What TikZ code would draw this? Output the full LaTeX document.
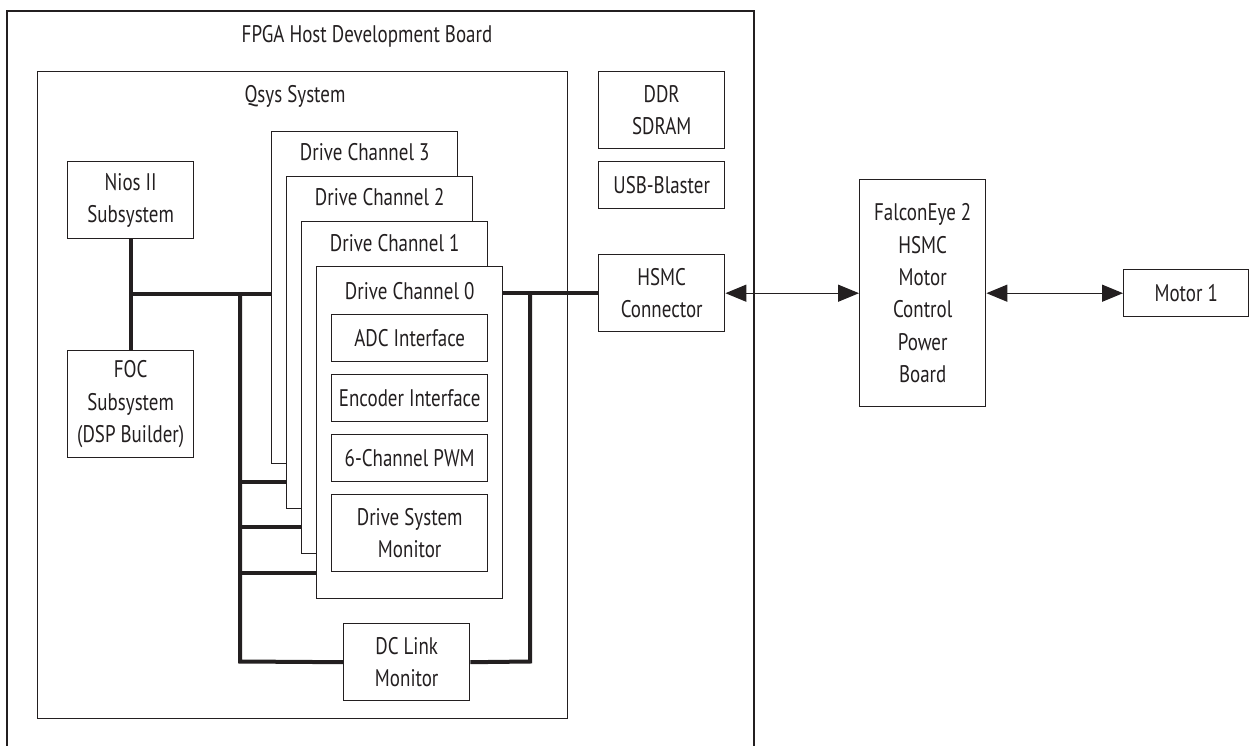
\documentclass[tikz,border=0pt]{standalone}
\usepackage{fontspec}
\setmainfont{PT Sans}[FakeStretch=0.79]
\usetikzlibrary{arrows.meta}
\definecolor{ink}{RGB}{35,31,32}
\begin{document}
\begin{tikzpicture}[x=1pt,y=-1pt,
  txt/.style={text=ink, font=\fontsize{24}{32.4}\selectfont, inner sep=0pt, align=center},
  box/.style={txt, draw=ink, line width=1.4pt, fill=white, anchor=north west},
  frame/.style={draw=ink, line width=1.4pt},
  bus/.style={draw=ink, line width=4pt},
  arr/.style={draw=ink, line width=1.4pt, {Triangle[length=21pt,width=17pt]}-{Triangle[length=21pt,width=17pt]}}]
\useasboundingbox (0,0) rectangle (1249,746);
% board frame (open at the bottom)
\draw[frame] (7,760) -- (7,11) -- (754,11) -- (754,760);
\node[txt, anchor=base] (boardl) at (367,43) {FPGA Host Development Board};
% Qsys
\node[box, fill=none, minimum width=530pt, minimum height=647pt] (qsys) at (37,71) {};
\node[txt, anchor=base] (qsysl) at (295,103) {Qsys System};
% Nios / FOC
\node[box, minimum width=126pt, minimum height=77pt] (nios) at (67,161) {Nios II\\Subsystem};
\node[box, minimum width=126pt, minimum height=107pt] (foc) at (67,350) {FOC\\Subsystem\\(DSP Builder)};
% Drive channels
\node[box, minimum width=186pt, minimum height=332pt] (dc3) at (271,131) {};
\node[txt, anchor=base] (dc3l) at ([yshift=-30pt]dc3.north) {Drive Channel 3};
\node[box, minimum width=186pt, minimum height=332pt] (dc2) at (286,176) {};
\node[txt, anchor=base] (dc2l) at ([yshift=-29pt]dc2.north) {Drive Channel 2};
\node[box, minimum width=186pt, minimum height=332pt] (dc1) at (301,221) {};
\node[txt, anchor=base] (dc1l) at ([yshift=-30pt]dc1.north) {Drive Channel 1};
\node[box, minimum width=186pt, minimum height=332pt] (dc0) at (316,266) {};
\node[txt, anchor=base] (dc0l) at ([yshift=-33pt]dc0.north) {Drive Channel 0};
\node[box, minimum width=156pt, minimum height=47pt] (adc) at (331,314) {ADC Interface};
\node[box, minimum width=156pt, minimum height=47pt] (enc) at (331,374) {Encoder Interface};
\node[box, minimum width=156pt, minimum height=47pt] (pwm) at (331,434) {6-Channel PWM};
\node[box, minimum width=156pt, minimum height=77pt] (dsm) at (331,494) {Drive System\\Monitor};
\node[box, minimum width=126pt, minimum height=77pt] (dcl) at (343,623) {DC Link\\Monitor};
% right column
\node[box, minimum width=126pt, minimum height=77pt] (ddr) at (598,71) {DDR\\SDRAM};
\node[box, minimum width=126pt, minimum height=47pt] (usb) at (598,161) {USB-Blaster};
\node[box, minimum width=126pt, minimum height=77pt] (hsmc) at (598,254) {HSMC\\Connector};
\node[box, minimum width=126pt, minimum height=227pt] (falcon) at (859,179) {FalconEye 2\\HSMC\\Motor\\Control\\Power\\Board};
\node[box, minimum width=125pt, minimum height=47pt] (motor) at (1123,269) {Motor 1};
% bus
\coordinate (jn) at (130,294);
\coordinate (lb) at (240,292);
\coordinate (lbb) at (240,661.5);
\coordinate (s2) at (240,482);
\coordinate (s1) at (240,527);
\coordinate (s0) at (240,573);
\coordinate (rb) at (530,661.5);
\coordinate (rt) at (530,292.5);
\draw[bus] (nios.south) -- (foc.north);
\draw[bus] (jn) -- (jn -| dc3.west);
\draw[bus] (lb) -- (lbb) -- (dcl.west);
\draw[bus] (s2) -- (s2 -| dc2.west);
\draw[bus] (s1) -- (s1 -| dc1.west);
\draw[bus] (s0) -- (s0 -| dc0.west);
\draw[bus] (rt) -- (rb) -- (dcl.east);
\draw[bus] (dc0.east |- hsmc.west) -- (hsmc.west);
% arrows
\draw[arr] (hsmc.east) -- (falcon.west);
\draw[arr] (falcon.east) -- (motor.west);
\end{tikzpicture}
\end{document}
